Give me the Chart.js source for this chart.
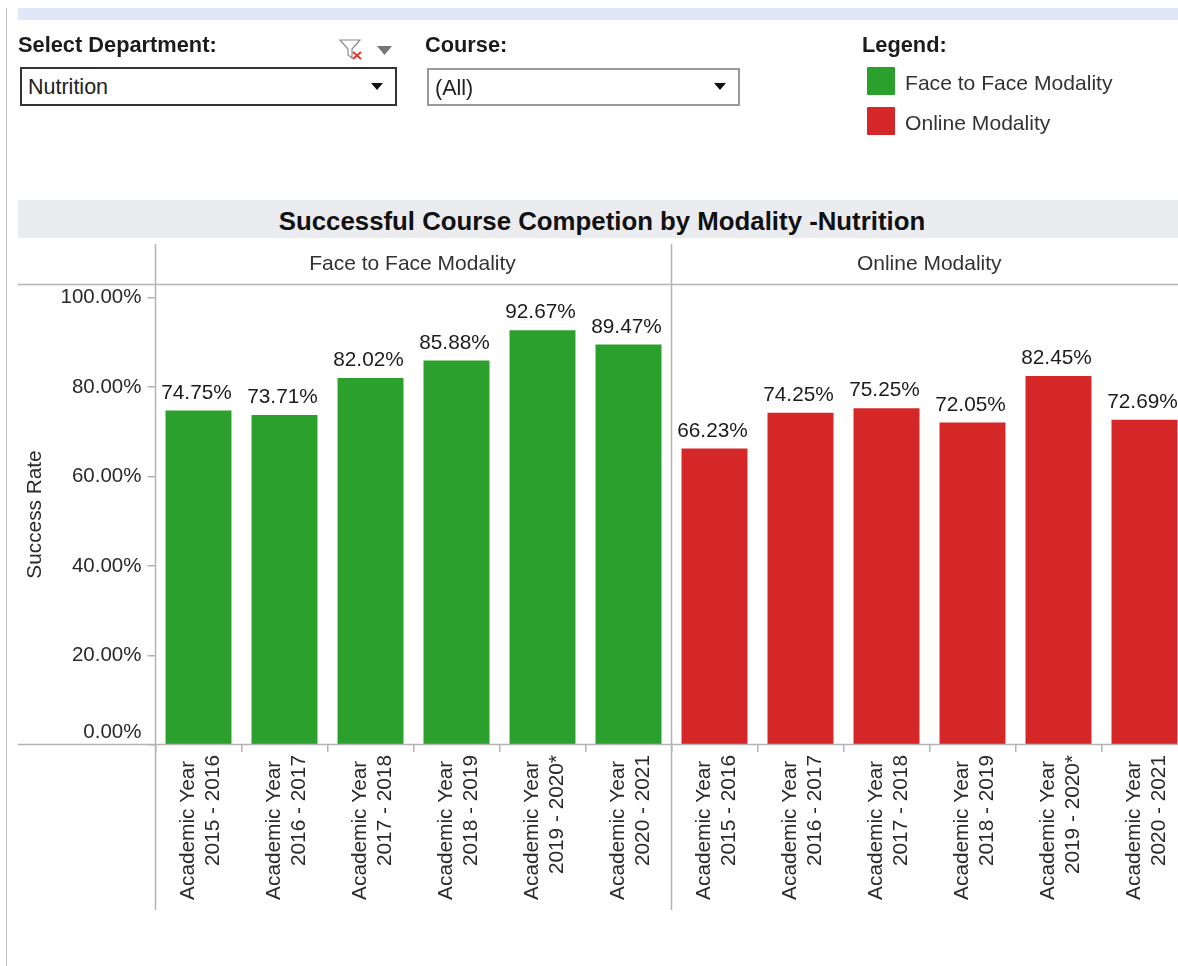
<!DOCTYPE html>
<html><head><meta charset="utf-8">
<style>
html,body{margin:0;padding:0;width:1178px;height:966px;overflow:hidden;background:#fff;font-family:"Liberation Sans",Arial,sans-serif;color:#222}
#wrap{position:absolute;left:0;top:0;width:1178px;height:966px;overflow:hidden;filter:blur(.4px)}
#cv{position:absolute;left:0;top:0}
.a{position:absolute;white-space:nowrap}
.b{font-weight:bold;font-size:21.8px;line-height:24px;color:#1c1c1c}
.box{box-sizing:border-box;background:#fff;font-size:21.5px;line-height:36px;padding-left:6px}
.t{width:0;height:0;border-left:6px solid transparent;border-right:6px solid transparent;border-top:7px solid #111}
.lg{font-size:21.1px;line-height:24px;color:#333}
</style></head><body>
<div id="wrap">
<canvas id="cv" width="1200" height="966" style="width:1200px;height:966px"></canvas>
<div class="a" style="left:6px;top:8px;width:1px;height:958px;background:#c4c4c4"></div>
<div class="a" style="left:18px;top:8px;width:1160px;height:12px;background:#e0e7f7"></div>
<div class="a b" style="left:18px;top:33px">Select Department:</div>
<svg class="a" style="left:338px;top:38px" width="56" height="24" viewBox="0 0 56 24"><path d="M2 2H22L14 11V20L10 17V11Z" fill="#fff" stroke="#8a8a8a" stroke-width="1.2"/><path d="M15 14L23 21M23 14L15 21" stroke="#d9382e" stroke-width="2"/><path d="M39 8H54L46.500 17Z" fill="#777"/></svg>
<div class="a box" style="left:20px;top:67px;width:377px;height:39px;border:2px solid #333">Nutrition</div>
<div class="a t" style="left:371px;top:83px"></div>
<div class="a b" style="left:425px;top:33px">Course:</div>
<div class="a box" style="left:427px;top:68px;width:313px;height:38px;border:2px solid #999">(All)</div>
<div class="a t" style="left:714px;top:83px"></div>
<div class="a b" style="left:862px;top:33px">Legend:</div>
<div class="a" style="left:867px;top:67px;width:28px;height:28px;border-radius:1px;background:#2ca02c"></div>
<div class="a lg" style="left:905px;top:71px">Face to Face Modality</div>
<div class="a" style="left:867px;top:107px;width:28px;height:28px;border-radius:1px;background:#d62728"></div>
<div class="a lg" style="left:905px;top:111px">Online Modality</div>
<div class="a" style="left:18px;top:200px;width:1160px;height:38px;background:#ebecf0"></div>
<div class="a" style="left:18px;top:206px;width:1168px;text-align:center;font-weight:bold;font-size:25.8px;line-height:30px;color:#111">Successful Course Competion by Modality -Nutrition</div>
</div>
<script src="https://cdn.jsdelivr.net/npm/chart.js@4"></script>
<script>
const categoryRowOne = "Academic Year";
const years = ["2015 - 2016","2016 - 2017","2017 - 2018","2018 - 2019","2019 - 2020*","2020 - 2021"];
const panels = ["Face to Face Modality","Online Modality"];
const faceToFace = [74.75,73.71,82.02,85.88,92.67,89.47];
const online = [66.23,74.25,75.25,72.05,82.45,72.69];
const yTicks = [0,20,40,60,80,100];
const yTitle = "Success Rate";

const categories = [...years,...years].map(y=>[categoryRowOne+" ",y]);
const pad = v=>[...v,...v.map(()=>null)];
const pad2 = v=>[...v.map(()=>null),...v];
const FONT = '"Liberation Sans",Arial,sans-serif';
const LINE = '#b4b4b4';

const frame = {
  id:'frame',
  afterDatasetsDraw(c){
    const {ctx,scales:{x,y}} = c;
    ctx.save();
    const mid = (x.getPixelForValue(5)+x.getPixelForValue(6))/2;
    const base = y.getPixelForValue(0);
    ctx.strokeStyle = LINE; ctx.lineWidth = 1.5;
    ctx.beginPath();
    ctx.moveTo(18,284.5); ctx.lineTo(1200,284.5);
    ctx.moveTo(18,base-.5); ctx.lineTo(1200,base-.5);
    ctx.moveTo(x.left,244); ctx.lineTo(x.left,910);
    ctx.moveTo(mid,244); ctx.lineTo(mid,910);
    ctx.stroke();
    ctx.fillStyle = '#333'; ctx.font = '21px '+FONT;
    ctx.textAlign='center'; ctx.textBaseline='middle';
    ctx.fillText(panels[0],(x.left+mid)/2-1,264.5);
    ctx.fillText(panels[1],(mid+1187)/2,264.5);
    ctx.fillStyle = '#1c1c1c'; ctx.font = '20.8px '+FONT;
    c.data.datasets.forEach((d,i)=>{
      c.getDatasetMeta(i).data.forEach((el,j)=>{
        if(d.data[j]==null) return;
        ctx.fillText(d.data[j].toFixed(2)+'%', el.x-2, el.y-17.5);
      });
    });
    ctx.restore();
  }
};

new Chart(document.getElementById('cv'),{
  type:'bar',
  data:{labels:categories,datasets:[
    {label:panels[0],data:pad(faceToFace),backgroundColor:'#2ca02c',barPercentage:.767,categoryPercentage:1},
    {label:panels[1],data:pad2(online),backgroundColor:'#d62728',barPercentage:.767,categoryPercentage:1}
  ]},
  plugins:[frame],
  options:{
    responsive:false,animation:false,
    layout:{padding:{top:284,right:12.5,left:0,bottom:0}},
    plugins:{legend:{display:false},tooltip:{enabled:false},title:{display:false}},
    scales:{
      x:{
        stacked:true,offset:true,
        afterFit(s){s.height=221;},
        border:{display:false},
        grid:{offset:true,drawOnChartArea:false,color:LINE,lineWidth:1.5,tickLength:7},
        ticks:{autoSkip:false,minRotation:90,maxRotation:90,padding:3,labelOffset:-10,color:'#2a2a2a',font:{family:FONT,size:20.8}}
      },
      y:{
        min:0,max:103,
        afterFit(s){s.width=155.5;},
        afterBuildTicks(s){s.ticks=yTicks.map(v=>({value:v}));},
        border:{display:false},
        grid:{drawOnChartArea:false,color:LINE,lineWidth:1.5,tickLength:8},
        title:{display:true,text:yTitle,color:'#2a2a2a',font:{family:FONT,size:20.8},padding:{top:23,bottom:0}},
        ticks:{padding:6,color:'#2a2a2a',font:{family:FONT,size:20.5},
          callback:v=>v===0?['0.00%','']:v.toFixed(2)+'%'}
      }
    }
  }
});
</script>
</body></html>
